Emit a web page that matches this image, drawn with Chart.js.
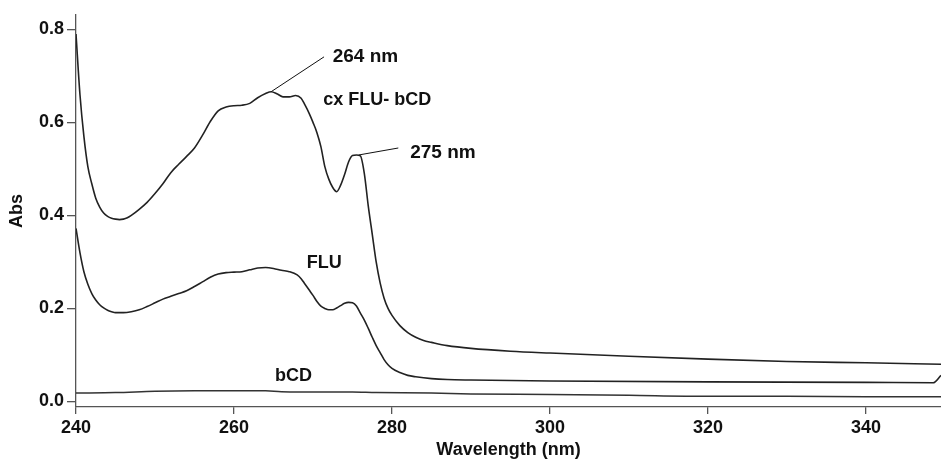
<!DOCTYPE html>
<html>
<head>
<meta charset="utf-8">
<script src="https://cdn.jsdelivr.net/npm/chart.js@4.4.1/dist/chart.umd.min.js"></script>
<style>
html,body{margin:0;padding:0;background:#fff;}
#wrap{width:941px;height:460px;position:relative;}
</style>
</head>
<body>
<div id="wrap"><canvas id="c" width="941" height="460"></canvas></div>
<script>
// ---- data ----
const cxWavelength = [240,240.5,241,241.5,242,242.5,243,243.5,244,244.5,245,245.5,246,246.5,247,248,249,250,251,252,253,254,255,256,257,258,259,260,261,262,263,264,264.7,265.5,266.2,267,267.8,268.5,269,269.5,270,270.5,271,271.5,272,272.5,273,273.5,274,274.5,275,275.5,276,276.5,277,277.5,278,278.5,279,279.5,280,281,282,283,284,285,287,290,295,300,310,320,330,340,349.5];
const cxAbs = [0.79,0.66,0.57,0.505,0.468,0.437,0.418,0.405,0.398,0.394,0.392,0.391,0.392,0.395,0.4,0.413,0.428,0.447,0.468,0.492,0.51,0.527,0.545,0.572,0.602,0.625,0.633,0.636,0.637,0.641,0.653,0.662,0.666,0.661,0.655,0.655,0.658,0.652,0.637,0.62,0.6,0.578,0.548,0.505,0.478,0.46,0.451,0.465,0.488,0.515,0.529,0.53,0.528,0.49,0.42,0.36,0.3,0.255,0.222,0.2,0.185,0.163,0.148,0.138,0.131,0.127,0.12,0.114,0.108,0.104,0.097,0.091,0.086,0.083,0.080];

const fluWavelength = [240,240.5,241,241.5,242,242.5,243,243.5,244,244.5,245,246,247,248,249,250,251,252,253,254,255,256,257,258,259,260,261,262,263,264,265,266,267,268,268.5,269,269.5,270,270.5,271,271.5,272,272.5,273,273.5,274,274.5,275,275.5,276,276.5,277,277.5,278,278.5,279,279.5,280,281,282,283,285,287,290,300,320,340,348.5,349.5];
const fluAbs = [0.372,0.32,0.279,0.252,0.232,0.218,0.208,0.201,0.196,0.193,0.191,0.191,0.193,0.197,0.204,0.212,0.22,0.226,0.232,0.238,0.247,0.257,0.267,0.274,0.277,0.278,0.279,0.283,0.287,0.288,0.286,0.282,0.279,0.272,0.264,0.252,0.24,0.228,0.215,0.205,0.2,0.197,0.197,0.201,0.206,0.211,0.213,0.212,0.205,0.19,0.175,0.157,0.138,0.12,0.105,0.09,0.079,0.071,0.062,0.056,0.053,0.049,0.047,0.046,0.044,0.042,0.041,0.040,0.056];

const bcdWavelength = [240,245,250,255,264,266,275,278,285,290,300,310,320,330,340,349.5];
const bcdAbs = [0.018,0.019,0.022,0.023,0.023,0.021,0.020,0.019,0.018,0.016,0.015,0.013,0.011,0.011,0.010,0.010];

const xTicks = [240,260,280,300,320,340];
const yTicks = [0.0,0.2,0.4,0.6,0.8];

// annotation texts (anchored in data coordinates: wavelength, absorbance)
const labelTexts = ["264 nm","cx FLU- bCD","275 nm","FLU","bCD"];
const labelX =     [272.5, 271.3, 282.3, 269.2, 265.2];
const labelY =     [0.741, 0.648, 0.534, 0.297, 0.055];
const labelSize =  [19, 18, 19, 18, 18];
// leader lines: from curve point to label
const leaderFromX = [264.7, 275.8];
const leaderFromY = [0.666, 0.530];
const leaderToX =   [271.4, 280.8];
const leaderToY =   [0.741, 0.545];

const FONT = "'Liberation Sans', Arial, sans-serif";

function pts(xs, ys){ return xs.map((x,i)=>({x:x,y:ys[i]})); }

const annotPlugin = {
  id:'annot',
  afterDatasetsDraw(chart){
    const ctx = chart.ctx, xs = chart.scales.x, ys = chart.scales.y;
    ctx.save();
    ctx.strokeStyle = '#111';
    ctx.lineWidth = 1;
    for(let i=0;i<leaderFromX.length;i++){
      ctx.beginPath();
      ctx.moveTo(xs.getPixelForValue(leaderFromX[i]), ys.getPixelForValue(leaderFromY[i]));
      ctx.lineTo(xs.getPixelForValue(leaderToX[i]), ys.getPixelForValue(leaderToY[i]));
      ctx.stroke();
    }
    ctx.fillStyle = '#111';
    ctx.textAlign = 'left';
    ctx.textBaseline = 'middle';
    for(let i=0;i<labelTexts.length;i++){
      ctx.font = 'bold ' + labelSize[i] + 'px ' + FONT;
      ctx.fillText(labelTexts[i], xs.getPixelForValue(labelX[i]), ys.getPixelForValue(labelY[i]));
    }
    ctx.restore();
  }
};

const lineStyle = {borderColor:'#222', borderWidth:1.6, pointRadius:0, fill:false, cubicInterpolationMode:'monotone'};

new Chart(document.getElementById('c'), {
  type:'line',
  data:{
    datasets:[
      Object.assign({label:'cx FLU- bCD', data:pts(cxWavelength,cxAbs)}, lineStyle),
      Object.assign({label:'FLU', data:pts(fluWavelength,fluAbs)}, lineStyle),
      Object.assign({label:'bCD', data:pts(bcdWavelength,bcdAbs)}, lineStyle, {borderColor:'#333', borderWidth:1.5})
    ]
  },
  options:{
    responsive:false,
    animation:false,
    devicePixelRatio:1,
    layout:{padding:{top:15,right:0,left:0,bottom:0}},
    plugins:{legend:{display:false}, tooltip:{enabled:false}},
    scales:{
      x:{
        type:'linear', min:240, max:349.5,
        afterBuildTicks(s){ s.ticks = xTicks.map(v=>({value:v})); },
        afterFit(s){ s.height = 53; },
        grid:{display:true, drawOnChartArea:false, drawTicks:true, tickLength:7, color:'#555', lineWidth:1.3},
        border:{display:true, color:'#555', width:1.3},
        ticks:{color:'#111', font:{family:FONT, size:18, weight:'bold'}, padding:3, maxRotation:0, callback:v=>String(v)},
        title:{display:true, text:'Wavelength (nm)', color:'#111', font:{family:FONT, size:18, weight:'bold'}, padding:{top:0,bottom:-1}}
      },
      y:{
        type:'linear', min:-0.012, max:0.831,
        afterBuildTicks(s){ s.ticks = yTicks.map(v=>({value:v})); },
        afterFit(s){ s.width = 76; },
        grid:{display:true, drawOnChartArea:false, drawTicks:true, tickLength:9, color:'#555', lineWidth:1.3},
        border:{display:true, color:'#555', width:1.3},
        ticks:{color:'#111', font:{family:FONT, size:18, weight:'bold'}, padding:3, callback:v=>v.toFixed(1)},
        title:{display:true, text:'Abs', color:'#111', font:{family:FONT, size:18, weight:'bold'}, padding:{top:6,bottom:0}}
      }
    }
  },
  plugins:[annotPlugin]
});
</script>
</body>
</html>
